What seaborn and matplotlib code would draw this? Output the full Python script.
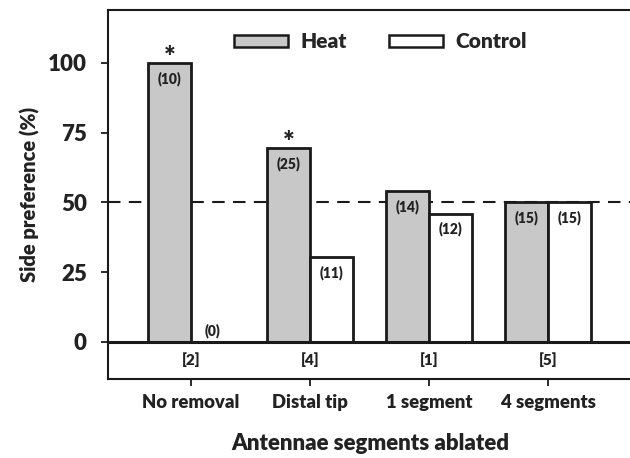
import matplotlib
matplotlib.use("Agg")
import matplotlib.pyplot as plt
import seaborn as sns
import pandas as pd
from matplotlib.patches import Patch

categories = ["No removal", "Distal tip", "1 segment", "4 segments"]
heat = [100, 69.5, 54, 50]
control = [0, 30.5, 46, 50]
heat_n = ["(10)", "(25)", "(14)", "(15)"]
control_n = ["(0)", "(11)", "(12)", "(15)"]
pairs = ["[2]", "[4]", "[1]", "[5]"]
signif = ["*", "*", "", ""]

sns.set_theme(style="white")
plt.rcParams['font.family'] = ['Lato', 'DejaVu Sans']

W = "heavy"
TXT = "#222222"

df = pd.DataFrame({
    "Segments": categories * 2,
    "Value": heat + control,
    "Group": ["Heat"] * 4 + ["Control"] * 4,
})

fig = plt.figure(figsize=(6.3, 4.58), dpi=100)
ax = fig.add_axes([0.171, 0.1725, 0.835, 0.806])

edge = "#1a1a1a"
ax.axhline(50, color=edge, lw=1.5, ls=(0, (6, 4)), zorder=0)

sns.barplot(data=df, x="Segments", y="Value", hue="Group",
            palette={"Heat": "#c8c8c8", "Control": "white"},
            width=0.72, gap=0, edgecolor=edge, linewidth=2.0,
            ax=ax, legend=False, zorder=2, saturation=1)

ax.axhline(0, color=edge, lw=2.2, zorder=3)

off = 0.18
for i in range(len(categories)):
    hx = i - off
    cx = i + off
    ax.text(hx, heat[i] - 3.0, heat_n[i], ha="center", va="top",
            fontsize=10, fontweight=W, color=TXT)
    if control[i] > 0:
        ax.text(cx, control[i] - 3.0, control_n[i], ha="center", va="top",
                fontsize=10, fontweight=W, color=TXT)
    else:
        ax.text(cx, 1.5, control_n[i], ha="center", va="bottom",
                fontsize=10, fontweight=W, color=TXT)
    if signif[i]:
        ax.text(hx, heat[i] - 2.8, signif[i], ha="center", va="bottom",
                fontsize=20, fontweight=W, color=TXT)
    ax.text(i, -6.5, pairs[i], ha="center", va="center",
            fontsize=11, fontweight=W, color=TXT)

ax.set_ylim(-13.3, 119)
ax.set_xlim(-0.70, 3.72)
ax.set_yticks([0, 25, 50, 75, 100])
ax.tick_params(axis="both", which="both", direction="out", length=5,
               width=1.3, color=edge, left=True, bottom=True)
ax.tick_params(axis="y", labelsize=16, pad=10)
ax.tick_params(axis="x", labelsize=13.3, pad=6)
for lab in ax.get_yticklabels() + ax.get_xticklabels():
    lab.set_fontweight(W)
    lab.set_color(TXT)

ax.set_ylabel("Side preference (%)", fontsize=14.5, fontweight=W,
              color=TXT, labelpad=6)
ax.set_xlabel("Antennae segments ablated", fontsize=16, fontweight=W,
              color=TXT, labelpad=16)

for s in ["left", "bottom", "top"]:
    ax.spines[s].set_color(edge)
    ax.spines[s].set_linewidth(1.5)
ax.spines["right"].set_visible(False)

handles = [Patch(facecolor="#c8c8c8", edgecolor=edge, linewidth=1.8, label="Heat"),
           Patch(facecolor="white", edgecolor=edge, linewidth=1.8, label="Control")]
ax.legend(handles=handles, loc="upper left", bbox_to_anchor=(0.205, 0.99),
          ncol=2, frameon=False, handlelength=2.6, handleheight=0.55,
          handletextpad=0.6, columnspacing=2.0,
          prop={"size": 15, "weight": W})

fig.savefig("out.png", dpi=100)
